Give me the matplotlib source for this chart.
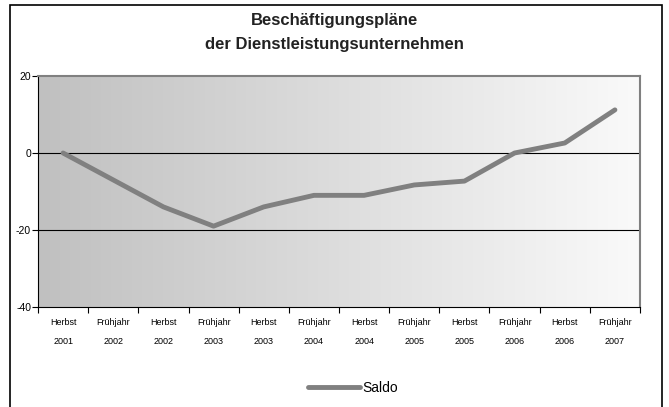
import numpy as np
import matplotlib
matplotlib.use("Agg")
import matplotlib.pyplot as plt
from matplotlib.colors import LinearSegmentedColormap

plt.rcParams['font.family'] = ['Liberation Sans', 'DejaVu Sans']
plt.rcParams['axes.unicode_minus'] = False

# Daten
seasons = ['Herbst', 'Frühjahr', 'Herbst', 'Frühjahr', 'Herbst', 'Frühjahr',
           'Herbst', 'Frühjahr', 'Herbst', 'Frühjahr', 'Herbst', 'Frühjahr']
years = ['2001', '2002', '2002', '2003', '2003', '2004',
         '2004', '2005', '2005', '2006', '2006', '2007']
saldo = [0, -7, -14, -19, -14, -11, -11, -8.3, -7.3, 0, 2.6, 11.2]

labels = [f'{s}\n{y}' for s, y in zip(seasons, years)]
x = np.arange(len(saldo))

fig = plt.figure(figsize=(6.69, 4.07), dpi=100)
# äußerer Rahmen
fig.patches.append(plt.Rectangle((10 / 669, -0.01), 652 / 669, 1 - 5 / 407 + 0.01,
                                 transform=fig.transFigure, fill=False,
                                 edgecolor='black', linewidth=1.2))

ax = fig.add_axes([38 / 669, 1 - 307 / 407, 602 / 669, 231 / 407])

# Hintergrund-Verlauf
cmap = LinearSegmentedColormap.from_list('bg', ['#c0c0c0', '#fafafa'])
grad = np.linspace(0, 1, 256).reshape(1, -1)
ax.imshow(grad, extent=[0, 1, 0, 1], transform=ax.transAxes, aspect='auto',
          cmap=cmap, zorder=0)

ax.set_xlim(-0.5, len(saldo) - 0.5)
ax.set_ylim(-40, 20)

for yv in (0, -20):
    ax.axhline(yv, color='black', linewidth=0.8, zorder=1)

ax.plot(x, saldo, color='#808080', linewidth=3.5, label='Saldo', zorder=3,
        solid_capstyle='round')

ax.set_yticks([-40, -20, 0, 20])
ax.tick_params(axis='y', labelsize=7.5, length=4, width=0.8, pad=1)
ax.set_xticks(x)
ax.set_xticklabels(labels, fontsize=6.5, linespacing=2.4)
ax.set_xticks(np.arange(-0.5, len(saldo)), minor=True)
ax.tick_params(axis='x', which='major', length=0, pad=8)
ax.tick_params(axis='x', which='minor', length=4, width=0.8)

ax.spines['left'].set_color('black')
ax.spines['bottom'].set_color('black')
ax.spines['top'].set_color('#808080')
ax.spines['right'].set_color('#808080')
ax.spines['top'].set_linewidth(1.5)
ax.spines['right'].set_linewidth(1.5)

fig.text(0.5, 0.968, 'Beschäftigungspläne\nder Dienstleistungsunternehmen',
         ha='center', va='top', fontsize=12, fontweight='bold', color='#222222',
         linespacing=1.75)

leg = fig.legend(loc='center', bbox_to_anchor=(0.527, 1 - 388 / 407), frameon=False,
                 fontsize=10, handlelength=3.8, handletextpad=0.1)

fig.savefig('out.png', dpi=100)
plt.close(fig)
